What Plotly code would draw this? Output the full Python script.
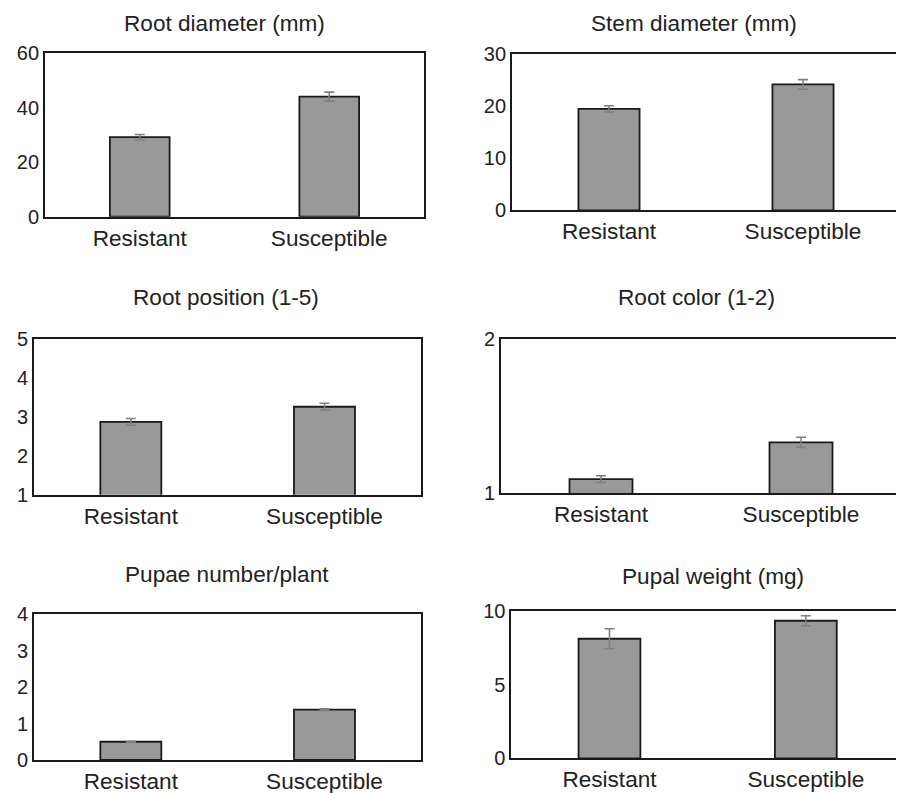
import plotly.graph_objects as go

# page body has an 8px margin; the figure is sized/placed to fill the 904x793 window
OFF = 8
W, H = 904 - OFF, 793 - OFF

categories = ["Resistant", "Susceptible"]

titles = ["Root diameter (mm)", "Stem diameter (mm)", "Root position (1-5)",
          "Root color (1-2)", "Pupae number/plant", "Pupal weight (mg)"]

root_diameter = [29.2, 44.1]
root_diameter_err = [0.97, 1.65]
stem_diameter = [19.5, 24.2]
stem_diameter_err = [0.6, 0.93]
root_position = [2.87, 3.26]
root_position_err = [0.086, 0.09]
root_color = [1.09, 1.33]
root_color_err = [0.022, 0.033]
pupae_number = [0.5, 1.38]
pupae_number_err = [0.015, 0.02]
pupal_weight = [8.1, 9.32]
pupal_weight_err = [0.68, 0.34]

y_ranges = [[0, 60], [0, 30], [1, 5], [1, 2], [0, 4], [0, 10]]
y_dticks = [20, 10, 1, 1, 1, 5]

values = [root_diameter, stem_diameter, root_position, root_color, pupae_number, pupal_weight]
errors = [root_diameter_err, stem_diameter_err, root_position_err, root_color_err,
          pupae_number_err, pupal_weight_err]

# plot boxes in window pixels: (left, right, top, bottom)
boxes = [(45, 424, 53.3, 216.7), (512, 900, 54.3, 210.3),
         (34, 421.3, 339, 494.7), (501, 901, 339.3, 493),
         (34, 421.3, 614, 760), (511.3, 904, 610.7, 758.3)]
# title positions (center x, middle y) in window pixels
title_pos = [(224.5, 24), (694, 24), (226, 297.5), (696, 298), (227, 574), (713, 576)]


def px_x(v):
    return min(max((v - OFF) / W, 0), 1)


def px_y(v):
    return min(max(1 - (v - OFF) / H, 0), 1)


FONT = "Liberation Sans, Arial, sans-serif"
fig = go.Figure()
layout = dict(width=W, height=H, margin=dict(l=0, r=0, t=0, b=0, autoexpand=False),
              template="none",
              paper_bgcolor="white", plot_bgcolor="white", showlegend=False,
              font=dict(family=FONT, color="#222222"))
annotations = []
for i in range(6):
    n = i + 1
    xa = "x" if n == 1 else f"x{n}"
    ya = "y" if n == 1 else f"y{n}"
    fig.add_trace(go.Bar(
        x=categories, y=values[i], xaxis=xa, yaxis=ya, width=0.315,
        marker=dict(color="#999999", line=dict(color="#1a1a1a", width=1.8)),
        error_y=dict(type="data", array=errors[i], color="#7f7f7f", thickness=1.6, width=5),
    ))
    l, r, t, b = boxes[i]
    layout["xaxis" if n == 1 else f"xaxis{n}"] = dict(
        domain=[px_x(l), px_x(r)], anchor=ya, range=[-0.5, 1.5], showline=True, mirror=True,
        linecolor="#1a1a1a", linewidth=1.8, ticks="", showgrid=False, automargin=False,
        tickfont=dict(size=22.6, family=FONT, color="#222222"), fixedrange=True)
    layout["yaxis" if n == 1 else f"yaxis{n}"] = dict(
        domain=[px_y(b), px_y(t)], anchor=xa, range=y_ranges[i], dtick=y_dticks[i],
        tick0=y_ranges[i][0], showline=True, mirror=True, linecolor="#1a1a1a", linewidth=1.8,
        ticks="", showgrid=False, zeroline=False, automargin=False,
        tickfont=dict(size=20, family=FONT, color="#222222"), fixedrange=True)
    tx, ty = title_pos[i]
    annotations.append(dict(text=titles[i], x=px_x(tx), y=px_y(ty), xref="paper", yref="paper",
                            xanchor="center", yanchor="middle", showarrow=False,
                            font=dict(size=22.6, family=FONT, color="#222222")))
layout["annotations"] = annotations
fig.update_layout(**layout)
fig.write_html("out.html")
